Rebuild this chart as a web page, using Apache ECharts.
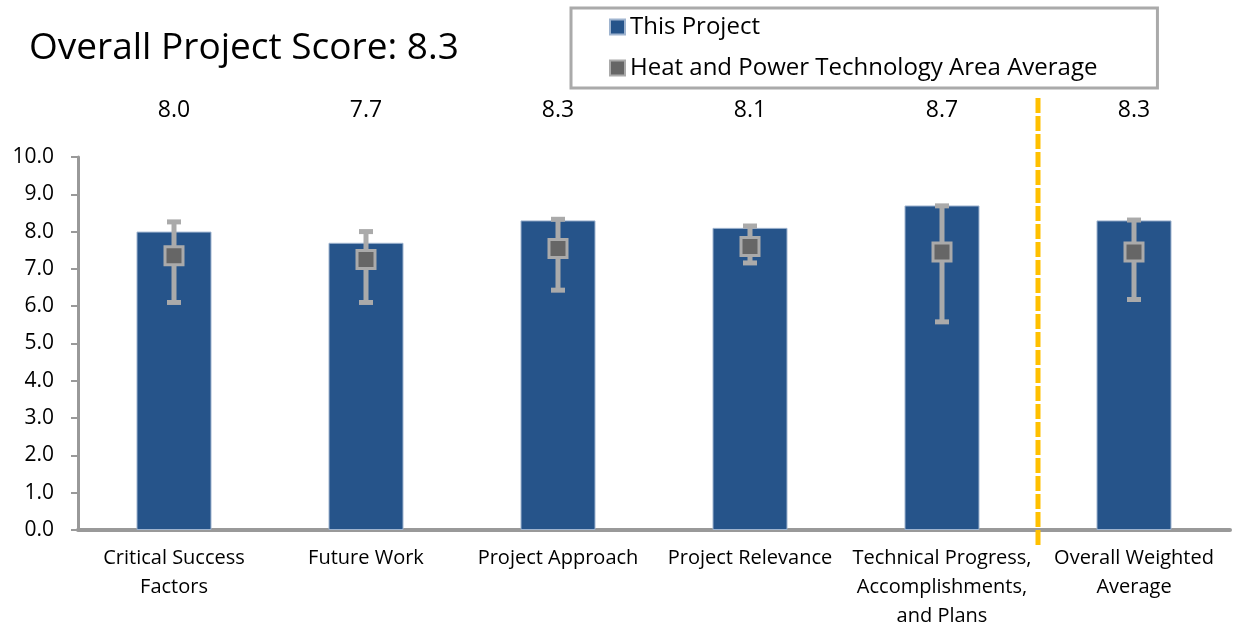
<!DOCTYPE html>
<html>
<head>
<meta charset="utf-8">
<script src="https://cdn.jsdelivr.net/npm/echarts@6/dist/echarts.min.js"></script>
<style>
html, body { margin: 0; padding: 0; background: #fff; }
#chart { width: 1233px; height: 626px; }
</style>
</head>
<body>
<div id="chart"></div>
<script>
// categories and scores
var categories = ['Critical Success\nFactors', 'Future Work', 'Project Approach', 'Project Relevance',
    'Technical Progress,\nAccomplishments,\nand Plans', 'Overall Weighted\nAverage'];
var projectScores = [8.0, 7.7, 8.3, 8.1, 8.7, 8.3];
// area average with its range (low / high)
var areaAverage = [7.35, 7.25, 7.55, 7.6, 7.45, 7.45];
var areaLow = [6.1, 6.1, 6.43, 7.16, 5.58, 6.18];
var areaHigh = [8.26, 8.0, 8.33, 8.15, 8.69, 8.31];
var yTicks = [0, 10, 1];

var font = 'Open Sans';
var errData = categories.map(function (c, i) { return [i, areaLow[i], areaHigh[i]]; });

var chart = echarts.init(document.getElementById('chart'));
chart.setOption({
    animation: false,
    title: {
        text: 'Overall Project Score: 8.3',
        left: 24, top: 25,
        textStyle: { fontFamily: font, fontSize: 37, fontWeight: 'normal', color: '#000' }
    },
    legend: {
        orient: 'vertical',
        left: 571, top: 8,
        padding: [7, 60, 8, 38],
        itemGap: 17,
        itemWidth: 15, itemHeight: 15,
        borderColor: '#aaa', borderWidth: 3,
        textStyle: { fontFamily: font, fontSize: 24, color: '#000' },
        data: [
            { name: 'This Project', icon: 'rect' },
            { name: 'Heat and Power Technology Area Average', icon: 'rect' }
        ]
    },
    grid: { left: 78, right: 3, top: 157, bottom: 96, outerBoundsMode: 'none' },
    xAxis: [{
        type: 'category',
        data: categories,
        axisLine: { lineStyle: { color: '#999', width: 4 } },
        axisTick: { length: 6, lineStyle: { color: '#999', width: 2 } },
        axisLabel: { fontFamily: font, fontSize: 20, color: '#000', margin: 14, lineHeight: 29, interval: 0 }
    }, {
        type: 'category',
        position: 'top',
        data: projectScores.map(function (v) { return v.toFixed(1); }),
        axisLine: { show: false },
        axisTick: { show: false },
        axisLabel: { fontFamily: font, fontSize: 23, color: '#000', margin: 35 }
    }],
    yAxis: {
        type: 'value',
        min: yTicks[0], max: yTicks[1], interval: yTicks[2],
        axisLine: { show: true, lineStyle: { color: '#999', width: 3 } },
        axisTick: { show: true, length: 7, lineStyle: { color: '#999', width: 2 } },
        splitLine: { show: false },
        axisLabel: {
            fontFamily: font, fontSize: 21, color: '#000', margin: 24,
            formatter: function (v) { return v.toFixed(1); }
        }
    },
    series: [{
        name: 'This Project',
        type: 'bar',
        data: projectScores,
        barWidth: 75,
        itemStyle: { color: '#26548A', borderColor: '#9fb4cf', borderWidth: 1 }
    }, {
        name: 'range',
        type: 'custom',
        data: errData,
        z: 5,
        renderItem: function (params, api) {
            var x = api.coord([api.value(0), 0])[0];
            var lo = api.coord([api.value(0), api.value(1)])[1];
            var hi = api.coord([api.value(0), api.value(2)])[1];
            var st = { stroke: '#aaa', lineWidth: 5 };
            return {
                type: 'group',
                children: [
                    { type: 'line', shape: { x1: x, y1: lo, x2: x, y2: hi }, style: st },
                    { type: 'line', shape: { x1: x - 7, y1: hi, x2: x + 7, y2: hi }, style: st },
                    { type: 'line', shape: { x1: x - 7, y1: lo, x2: x + 7, y2: lo }, style: st }
                ]
            };
        }
    }, {
        name: 'Heat and Power Technology Area Average',
        type: 'scatter',
        data: areaAverage,
        symbol: 'rect',
        symbolSize: 18,
        z: 6,
        itemStyle: { color: '#666', borderColor: '#aaa', borderWidth: 3, opacity: 1 }
    }, {
        name: 'divider',
        type: 'custom',
        data: [[categories.length - 1]],
        z: 4,
        renderItem: function (params, api) {
            var step = api.size([1, 0])[0];
            var x = api.coord([api.value(0), 0])[0] - step / 2;
            var y0 = api.coord([0, 0])[1] + 15;
            var y1 = api.coord([0, 10])[1] - 60;
            return {
                type: 'line',
                shape: { x1: x, y1: y0, x2: x, y2: y1 },
                style: { stroke: '#FFC000', lineWidth: 5, lineDash: [15, 3] }
            };
        }
    }]
});
</script>
</body>
</html>
